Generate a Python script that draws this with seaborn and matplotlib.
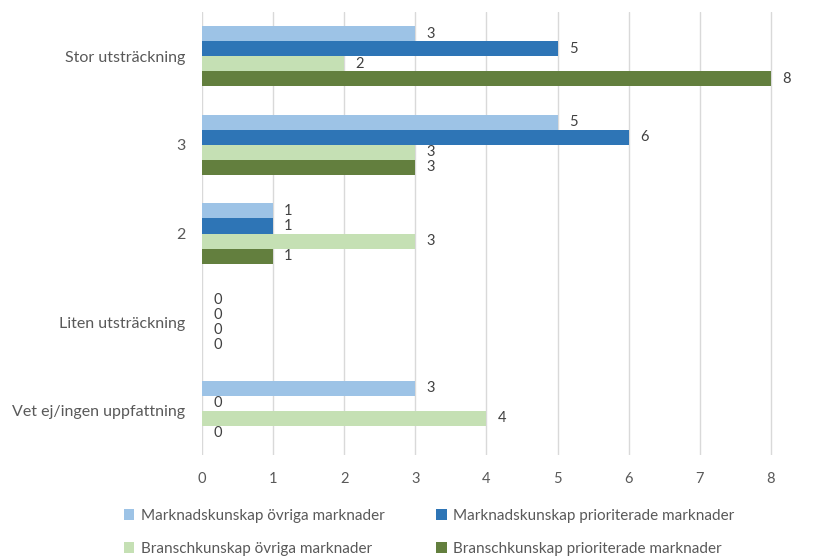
import matplotlib
matplotlib.use("Agg")
import matplotlib.pyplot as plt
import seaborn as sns
import pandas as pd
from matplotlib.patches import Patch

categories = ["Stor utsträckning", "3", "2", "Liten utsträckning", "Vet ej/ingen uppfattning"]
series = ["Marknadskunskap övriga marknader", "Marknadskunskap prioriterade marknader",
          "Branschkunskap övriga marknader", "Branschkunskap prioriterade marknader"]
mk_ovriga = [3, 5, 1, 0, 3]
mk_prio = [5, 6, 1, 0, 0]
bk_ovriga = [2, 3, 3, 0, 4]
bk_prio = [8, 3, 1, 0, 0]
x_ticks = [0, 1, 2, 3, 4, 5, 6, 7, 8, 9]
colors = ["#9DC3E6", "#2E75B6", "#C5E0B4", "#637F3E"]

rows = []
for s, vals in zip(series, [mk_ovriga, mk_prio, bk_ovriga, bk_prio]):
    for c, v in zip(categories, vals):
        rows.append({"Kategori": c, "Serie": s, "Värde": v})
df = pd.DataFrame(rows)

sns.set_theme(style="white")
plt.rcParams["font.family"] = ["Lato", "DejaVu Sans"]
text_color = "#595959"

fig = plt.figure(figsize=(8.39, 5.57), dpi=100)
ax = fig.add_axes([202 / 839, 1 - 455 / 557, (842 - 202) / 839, (455 - 12) / 557])

sns.barplot(data=df, y="Kategori", x="Värde", hue="Serie", order=categories,
            hue_order=series, palette=colors, orient="h", width=0.68,
            saturation=1, ax=ax, legend=False, linewidth=0)

for cont in ax.containers:
    ax.bar_label(cont, labels=[f"{int(v)}" for v in cont.datavalues], padding=8,
                 fontsize=10.5, color="#404040")

ax.set_xlim(0, 9)
ax.set_ylim(4.5, -0.5)
ax.set_xticks(x_ticks)
ax.set_xticklabels([str(t) for t in x_ticks])
ax.grid(axis="x", color="#D9D9D9", linewidth=1)
ax.set_axisbelow(True)
for sp in ax.spines.values():
    sp.set_visible(False)
ax.tick_params(axis="both", length=0, labelsize=10.5, labelcolor=text_color)
ax.tick_params(axis="y", pad=12, labelsize=11.5)
ax.tick_params(axis="x", pad=12)
ax.set_xlabel("")
ax.set_ylabel("")

order = [0, 2, 1, 3]
handles = [Patch(facecolor=colors[i], edgecolor="none") for i in order]
labels = [series[i] for i in order]
fig.legend(handles, labels, loc="lower left", bbox_to_anchor=(110 / 839, -0.022),
           ncol=2, frameon=False, fontsize=11, labelcolor=text_color,
           handlelength=0.7, handleheight=0.7, handletextpad=0.4,
           columnspacing=3.4, labelspacing=1.2)

fig.savefig("out.png", dpi=100)
